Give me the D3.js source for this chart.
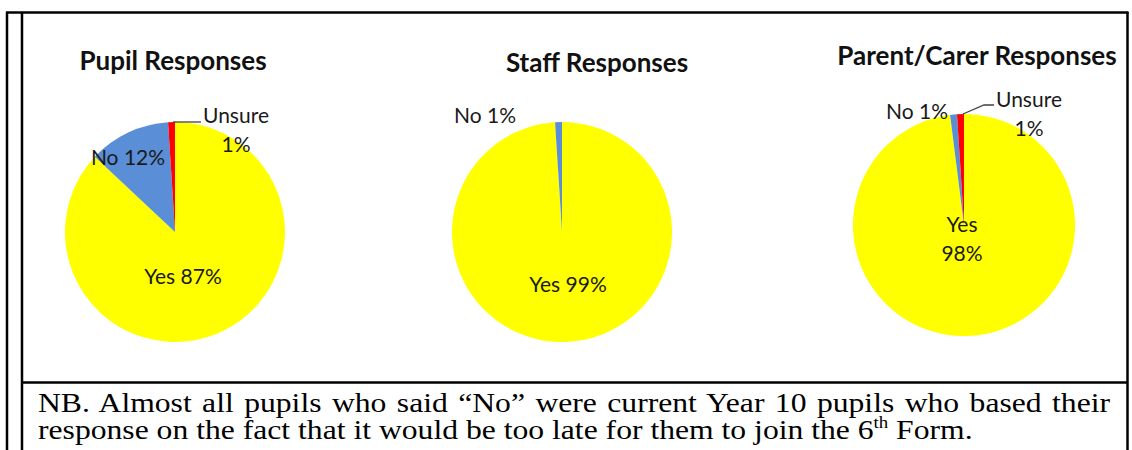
<!DOCTYPE html>
<html>
<head>
<meta charset="utf-8">
<script src="https://cdn.jsdelivr.net/npm/d3@7"></script>
<style>
  body { margin: 0; background: #fff; }
</style>
</head>
<body>
<div id="chart"></div>
<script>
// data
var categories = ["Yes", "No", "Unsure"];
var pupilValues = [87, 12, 1];
var staffValues = [99, 1, 0];
var parentValues = [98, 1, 1];
var titles = ["Pupil Responses", "Staff Responses", "Parent/Carer Responses"];
var noteLine1 = "NB. Almost all pupils who said \u201cNo\u201d were current Year 10 pupils who based their";
var noteLine2a = "response on the fact that it would be too late for them to join the 6";
var noteLine2b = "th";
var noteLine2c = " Form.";

var width = 1132;
var height = 450;
var colors = { "Yes": "#FFFF00", "No": "#5A8ED6", "Unsure": "#FF0000" };
var labelFont = "Lato, 'Open Sans', sans-serif";

var svg = d3.select('#chart')
    .append('svg')
    .attr('width', width)
    .attr('height', height);

// layout of the three pies (centre, title and label spots relative to centre)
var charts = [
    { values: pupilValues, cx: 175, cy: 232, r: 110, title: titles[0], tx: 173, ty: 70,
      labels: [
        { lines: ["Yes 87%"], x: 8, y: 52 },
        { lines: ["No 12%"], x: -47, y: -67 },
        { lines: ["Unsure", "1%"], x: 61, y: -109 }
      ],
      leader: [[-2, -110], [26, -110]] },
    { values: staffValues, cx: 562, cy: 232, r: 110, title: titles[1], tx: 597, ty: 72,
      labels: [
        { lines: ["Yes 99%"], x: 6, y: 60 },
        { lines: ["No 1%"], x: -77, y: -109 },
        null
      ],
      leader: null },
    { values: parentValues, cx: 964, cy: 225, r: 111, title: titles[2], tx: 977, ty: 65,
      labels: [
        { lines: ["Yes", "98%"], x: -2, y: 7 },
        { lines: ["No 1%"], x: -47, y: -106 },
        { lines: ["Unsure", "1%"], x: 65, y: -118 }
      ],
      leader: [[-1, -111], [20, -120], [30, -120]] }
];

var pie = d3.pie().sort(null).value(d => d.value);
var arc = d3.arc().innerRadius(0);

charts.forEach(function(c) {
    var data = categories.map((k, i) => ({ key: k, value: c.values[i] }));
    var g = svg.append('g').attr('transform', 'translate(' + c.cx + ',' + c.cy + ')');

    g.selectAll('path')
        .data(pie(data))
        .enter()
        .append('path')
        .attr('d', d => arc.outerRadius(c.r)(d))
        .attr('fill', d => colors[d.data.key]);

    if (c.leader) {
        g.append('path')
            .attr('d', d3.line()(c.leader))
            .attr('fill', 'none')
            .attr('stroke', '#404040')
            .attr('stroke-width', 1.3);
    }

    c.labels.forEach(function(l) {
        if (!l) return;
        var t = g.append('text')
            .attr('x', l.x)
            .attr('y', l.y)
            .attr('text-anchor', 'middle')
            .style('font-family', labelFont)
            .style('font-size', '21px')
            .attr('fill', '#1a1a1a');
        l.lines.forEach(function(s, i) {
            t.append('tspan').attr('x', l.x).attr('dy', i === 0 ? 0 : 29).text(s);
        });
    });

    svg.append('text')
        .attr('x', c.tx)
        .attr('y', c.ty)
        .attr('text-anchor', 'middle')
        .style('font-family', labelFont)
        .style('font-size', '26px')
        .attr('font-weight', 700)
        .attr('fill', '#111')
        .text(c.title);
});

// table borders
var border = svg.append('g').attr('stroke', '#000').attr('stroke-width', 2.5);
border.append('line').attr('x1', 6).attr('x2', 1128.5).attr('y1', 12.5).attr('y2', 12.5);
border.append('line').attr('x1', 7).attr('x2', 7).attr('y1', 12).attr('y2', height);
border.append('line').attr('x1', 22).attr('x2', 22).attr('y1', 12).attr('y2', height);
border.append('line').attr('x1', 1127.5).attr('x2', 1127.5).attr('y1', 12).attr('y2', height);
border.append('line').attr('x1', 22).attr('x2', 1127.5).attr('y1', 382.5).attr('y2', 382.5);

// note under the charts
var note = svg.append('g')
    .style('font-family', "'Liberation Serif', 'Times New Roman', serif")
    .style('font-size', '27px')
    .attr('fill', '#000');

var l1 = note.append('text').attr('x', 0).attr('y', 412).text(noteLine1);
var l2 = note.append('text').attr('x', 0).attr('y', 439);
l2.append('tspan').text(noteLine2a);
l2.append('tspan').attr('dy', -11).style('font-size', '16px').text(noteLine2b);
l2.append('tspan').attr('dy', 11).text(noteLine2c);

// squeeze so the last line ends where the reference does, justify the first line by word gaps
var natural = l2.node().getComputedTextLength();
var sx = 935 / natural;
note.attr('transform', 'translate(38,0) scale(' + sx + ',1)');
var gaps = noteLine1.split(' ').length - 1;
var extra = (1072 / sx - l1.node().getComputedTextLength()) / gaps;
l1.attr('word-spacing', extra);
</script>
</body>
</html>
